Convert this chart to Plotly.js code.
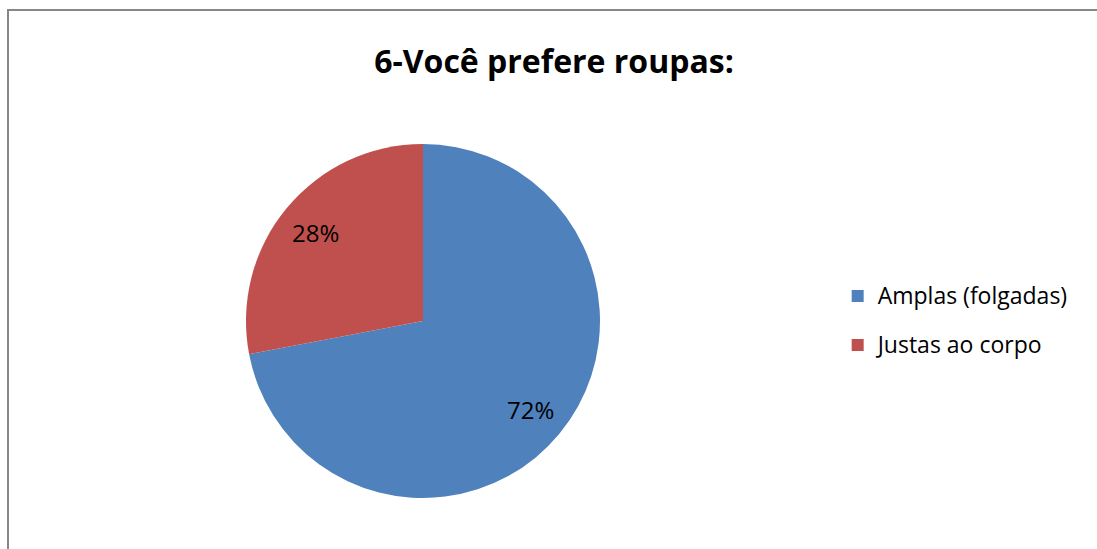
<!DOCTYPE html>
<html>
<head>
<meta charset="utf-8">
<script src="https://cdn.plot.ly/plotly-3.0.1.min.js"></script>
<style>
html,body{margin:0;padding:0;background:#fff;overflow:hidden;}
#frame{position:absolute;left:7px;top:9px;width:1200px;height:700px;border-left:2px solid #878787;border-top:2px solid #878787;box-sizing:border-box;pointer-events:none;z-index:2;}
#chart{position:absolute;left:0;top:0;width:1097px;height:549px;}
</style>
</head>
<body>
<div id="chart"></div>
<div id="frame"></div>
<script>
const categories = ["Amplas (folgadas)", "Justas ao corpo"];
const values = [72, 28];
const colors = ["#4F81BD", "#C0504D"];
const titleText = "6-Você prefere roupas:";

const W = 1097, H = 549;
const FONT = "Open Sans, Liberation Sans, sans-serif";
// pie placement (pixels)
const cx = 423, cy = 321, r = 177;

// percent labels placed along each slice's mid-angle, computed from the values
const total = values.reduce((a, b) => a + b, 0);
let cum = 0;
const annotations = values.map((v) => {
  const mid = (cum + v / 2) / total * 2 * Math.PI; // clockwise from 12 o'clock
  cum += v;
  const px = cx + 0.785 * r * Math.sin(mid);
  const py = cy - 0.785 * r * Math.cos(mid);
  return {
    x: px / W, y: 1 - py / H, xref: "paper", yref: "paper",
    xanchor: "center", yanchor: "middle", showarrow: false,
    text: Math.round(v / total * 100) + "%",
    font: {size: 24, color: "#000", family: FONT}
  };
});

const data = [{
  type: "pie",
  labels: categories.map(c => '<span style="font-size:23px;baseline-shift:6px">' + c + '</span>'),
  values: values,
  sort: false,
  direction: "clockwise",
  rotation: 0,
  marker: {colors: colors, line: {width: 0}},
  textinfo: "none",
  textposition: "none",
  domain: {x: [(cx - r) / W, (cx + r) / W], y: [1 - (cy + r) / H, 1 - (cy - r) / H]},
  hoverinfo: "label+percent"
}];

const layout = {
  width: W,
  height: H,
  margin: {l: 0, r: 0, t: 0, b: 0},
  paper_bgcolor: "#fff",
  font: {family: FONT, color: "#000"},
  title: {
    text: "<b>" + titleText + "</b>",
    font: {size: 32, color: "#000", family: FONT},
    x: 554 / W, xanchor: "center",
    y: 1 - 62 / H, yanchor: "middle",
    xref: "paper", yref: "container"
  },
  showlegend: true,
  legend: {
    x: 0.7636, xanchor: "left",
    y: 1 - 321 / H, yanchor: "middle",
    font: {size: 35.4, color: "#000", family: FONT},
    itemwidth: 30,
    bgcolor: "rgba(0,0,0,0)"
  },
  annotations: annotations
};

Plotly.newPlot("chart", data, layout, {displayModeBar: false, staticPlot: true});
</script>
</body>
</html>
